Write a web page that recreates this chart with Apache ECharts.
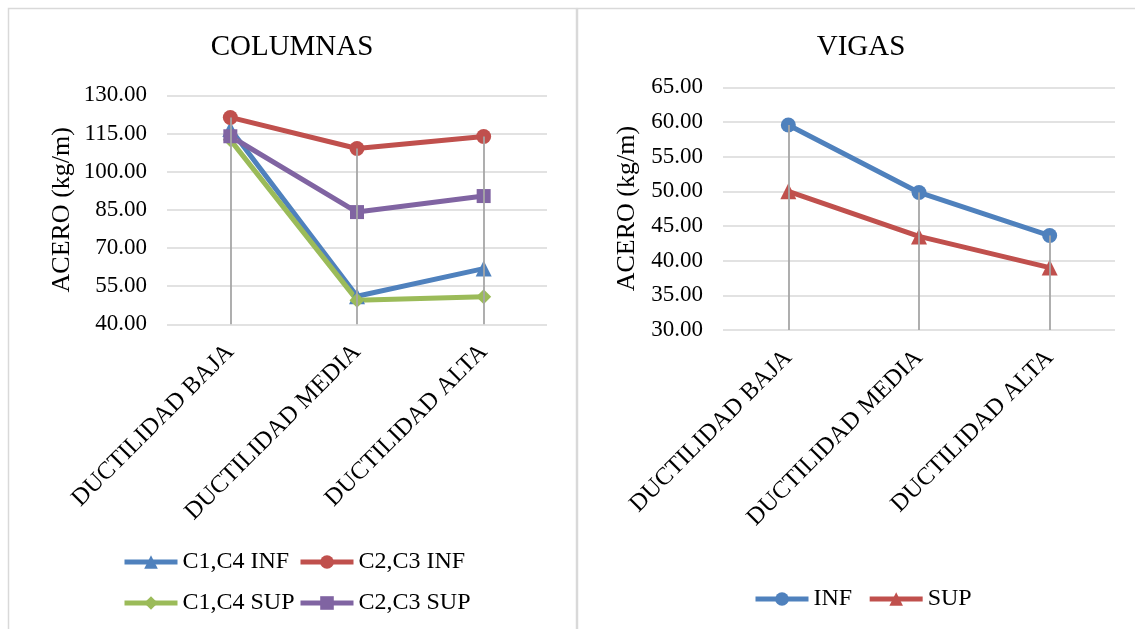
<!DOCTYPE html>
<html>
<head>
<meta charset="utf-8">
<script src="https://cdn.jsdelivr.net/npm/echarts@6/dist/echarts.min.js"></script>
<style>
html,body{margin:0;padding:0;background:#fff;}
#c{width:1135px;height:629px;}
</style>
</head>
<body>
<div id="c"></div>
<script>
// ---- data ----
const categories = ['DUCTILIDAD BAJA', 'DUCTILIDAD MEDIA', 'DUCTILIDAD ALTA'];
const colTitle = 'COLUMNAS';
const vigTitle = 'VIGAS';
const yName = 'ACERO (kg/m)';
const c14Inf = [116.8, 51.0, 61.9];
const c23Inf = [121.3, 109.1, 113.8];
const c14Sup = [112.5, 49.5, 50.8];
const c23Sup = [113.9, 84.1, 90.4];
const vigInf = [59.56, 49.83, 43.62];
const vigSup = [50.0, 43.5, 39.0];
const colNames = ['C1,C4 INF', 'C2,C3 INF', 'C1,C4 SUP', 'C2,C3 SUP'];
const vigNames = ['INF', 'SUP'];
const colY = {min: 40, max: 130, interval: 15};
const vigY = {min: 30, max: 65, interval: 5};

const FONT = "'Liberation Serif','Times New Roman',serif";
const BLUE = '#4F81BD', RED = '#C0504D', GREEN = '#9BBB59', PURPLE = '#8064A2';
const GRID = '#D9D9D9', DROP = '#A6A6A6';

function dropLines(seriesList, yMin) {
  return categories.map((c, i) => {
    const top = Math.max(...seriesList.map(s => s[i]));
    return [{coord: [i, top]}, {coord: [i, yMin]}];
  });
}

function lineSeries(name, data, color, symbol, size, xi) {
  return {
    type: 'line', name, data, xAxisIndex: xi, yAxisIndex: xi,
    symbol, symbolSize: size, showSymbol: true,
    lineStyle: {color, width: 5},
    itemStyle: {color, borderWidth: 0},
    emphasis: {disabled: true},
    z: 3
  };
}

function xAxis(gi) {
  return {
    type: 'category', data: categories, gridIndex: gi, boundaryGap: true,
    axisLine: {show: false}, axisTick: {show: false},
    axisLabel: {rotate: 45, color: '#000', fontFamily: FONT, fontSize: 24.5, margin: 24, interval: 0}
  };
}
function yAxis(gi, cfg, gap) {
  return {
    type: 'value', gridIndex: gi, min: cfg.min, max: cfg.max, interval: cfg.interval,
    name: yName, nameLocation: 'middle', nameRotate: 90, nameGap: gap,
    nameTextStyle: {color: '#000', fontFamily: FONT, fontSize: 26},
    axisLine: {show: false}, axisTick: {show: false},
    splitLine: {lineStyle: {color: GRID, width: 1.6}},
    axisLabel: {color: '#000', fontFamily: FONT, fontSize: 23, margin: 20,
      formatter: v => v.toFixed(2)}
  };
}
function legend(names, left, top, gap) {
  return {
    data: names, left, top, padding: 0, itemWidth: 53, itemHeight: 17, itemGap: gap || 10,
    selectedMode: false,
    lineStyle: {width: 5},
    textStyle: {color: '#000', fontFamily: FONT, fontSize: 24}
  };
}

const chart = echarts.init(document.getElementById('c'), null, {renderer: 'canvas'});
chart.setOption({
  backgroundColor: '#fff',
  animation: false,
  graphic: [
    {type: 'rect', shape: {x: 8.5, y: 8.5, width: 568, height: 700}, style: {fill: null, stroke: GRID, lineWidth: 1.5}, silent: true, z: -10},
    {type: 'rect', shape: {x: 577.5, y: 8.5, width: 600, height: 700}, style: {fill: null, stroke: GRID, lineWidth: 1.5}, silent: true, z: -10}
  ],
  title: [
    {text: colTitle, left: 292, top: 33, padding: 0, textAlign: 'center', textStyle: {fontFamily: FONT, fontSize: 29, fontWeight: 'normal', color: '#000'}},
    {text: vigTitle, left: 861, top: 33, padding: 0, textAlign: 'center', textStyle: {fontFamily: FONT, fontSize: 29, fontWeight: 'normal', color: '#000'}}
  ],
  legend: [
    legend([colNames[0]], 122, 550),
    legend([colNames[1]], 298, 550),
    legend([colNames[2]], 122, 591),
    legend([colNames[3]], 298, 591),
    legend(vigNames, 753, 587, 15)
  ],
  grid: [
    {left: 167, top: 95.3, width: 380, height: 229},
    {left: 723, top: 87.3, width: 392, height: 242.7}
  ],
  xAxis: [xAxis(0), xAxis(1)],
  yAxis: [yAxis(0, colY, 92), yAxis(1, vigY, 83)],
  series: [
    lineSeries(colNames[0], c14Inf, BLUE, 'triangle', 16, 0),
    lineSeries(colNames[2], c14Sup, GREEN, 'diamond', 15, 0),
    lineSeries(colNames[3], c23Sup, PURPLE, 'rect', 14, 0),
    lineSeries(colNames[1], c23Inf, RED, 'circle', 15, 0),
    lineSeries(vigNames[1], vigSup, RED, 'triangle', 16, 1),
    lineSeries(vigNames[0], vigInf, BLUE, 'circle', 15, 1),
    {type: 'line', name: 'drop0', data: [], xAxisIndex: 0, yAxisIndex: 0, z: 5,
     markLine: {silent: true, symbol: ['none', 'none'], label: {show: false},
       lineStyle: {color: DROP, width: 1.8, type: 'solid'}, emphasis: {disabled: true},
       data: dropLines([c14Inf, c23Inf, c14Sup, c23Sup], colY.min)}},
    {type: 'line', name: 'drop1', data: [], xAxisIndex: 1, yAxisIndex: 1, z: 5,
     markLine: {silent: true, symbol: ['none', 'none'], label: {show: false},
       lineStyle: {color: DROP, width: 1.8, type: 'solid'}, emphasis: {disabled: true},
       data: dropLines([vigInf, vigSup], vigY.min)}}
  ]
});
</script>
</body>
</html>
